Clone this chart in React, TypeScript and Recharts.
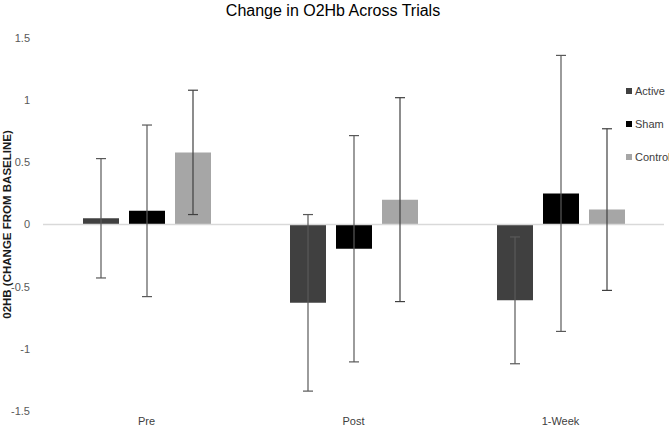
import {
  BarChart,
  Bar,
  XAxis,
  YAxis,
  ErrorBar,
  ReferenceLine,
} from 'recharts';

const trials = ['Pre', 'Post', '1-Week'];
const seriesNames = ['Active', 'Sham', 'Control'];
const seriesColors = ['#404040', '#000000', '#a6a6a6'];

const activeValues = [0.05, -0.63, -0.61];
const shamValues = [0.11, -0.195, 0.25];
const controlValues = [0.58, 0.2, 0.12];

const activeErrors = [0.48, 0.71, 0.51];
const shamErrors = [0.69, 0.91, 1.11];
const controlErrors = [0.5, 0.82, 0.65];

const yTicks = [-1.5, -1, -0.5, 0, 0.5, 1, 1.5];

const data = trials.map((trial, i) => ({
  trial,
  Active: activeValues[i],
  Sham: shamValues[i],
  Control: controlValues[i],
  ActiveErr: activeErrors[i],
  ShamErr: shamErrors[i],
  ControlErr: controlErrors[i],
}));

const font = '"Liberation Sans", Arial, sans-serif';

export default function App() {
  return (
    <div
      style={{
        position: 'absolute',
        left: 0,
        top: 0,
        width: 669,
        height: 430,
        background: '#fff',
        fontFamily: font,
      }}
    >
      <div
        style={{
          position: 'absolute',
          top: 0,
          left: 0,
          width: 666,
          textAlign: 'center',
          fontSize: 16,
          lineHeight: '22px',
          color: '#000',
        }}
      >
        Change in O2Hb Across Trials
      </div>

      <BarChart
        width={669}
        height={430}
        data={data}
        margin={{ top: 38, right: 5, bottom: 0, left: 0 }}
        barGap={10}
        barSize={36}
        style={{ fontFamily: font }}
      >
        <XAxis
          dataKey="trial"
          height={19}
          tickLine={false}
          axisLine={false}
          tickSize={0}
          tickMargin={6}
          tick={{ fill: '#404040', fontSize: 11 }}
          interval={0}
        />
        <YAxis
          type="number"
          domain={[-1.5, 1.5]}
          ticks={yTicks}
          interval={0}
          width={43}
          tickLine={false}
          axisLine={false}
          tickSize={6}
          tickMargin={7}
          tick={{ fill: '#595959', fontSize: 11 }}
          label={{
            value: '02HB (CHANGE FROM BASELINE)',
            angle: -90,
            position: 'insideLeft',
            offset: 7,
            style: {
              textAnchor: 'middle',
              fontSize: 11.5,
              fontWeight: 'bold',
              fill: '#1a1a1a',
            },
          }}
        />
        <ReferenceLine y={0} stroke="#d9d9d9" strokeWidth={1.5} />
        <Bar dataKey="Active" fill={seriesColors[0]} isAnimationActive={false}>
          <ErrorBar dataKey="ActiveErr" width={5} stroke="#595959" strokeWidth={1.2} />
        </Bar>
        <Bar dataKey="Sham" fill={seriesColors[1]} isAnimationActive={false}>
          <ErrorBar dataKey="ShamErr" width={5} stroke="#595959" strokeWidth={1.2} />
        </Bar>
        <Bar dataKey="Control" fill={seriesColors[2]} isAnimationActive={false}>
          <ErrorBar dataKey="ControlErr" width={5} stroke="#404040" strokeWidth={1.2} />
        </Bar>
      </BarChart>

      {/* legend sits on top of the plot area, like the original */}
      <div style={{ position: 'absolute', left: 626, top: 84 }}>
        {seriesNames.map((name, i) => (
          <div
            key={name}
            style={{
              display: 'flex',
              alignItems: 'center',
              height: 14,
              marginBottom: 19,
              fontSize: 11,
              color: '#404040',
            }}
          >
            <span
              style={{
                display: 'inline-block',
                width: 6,
                height: 6,
                background: seriesColors[i],
                marginRight: 3,
              }}
            />
            {name}
          </div>
        ))}
      </div>
    </div>
  );
}
